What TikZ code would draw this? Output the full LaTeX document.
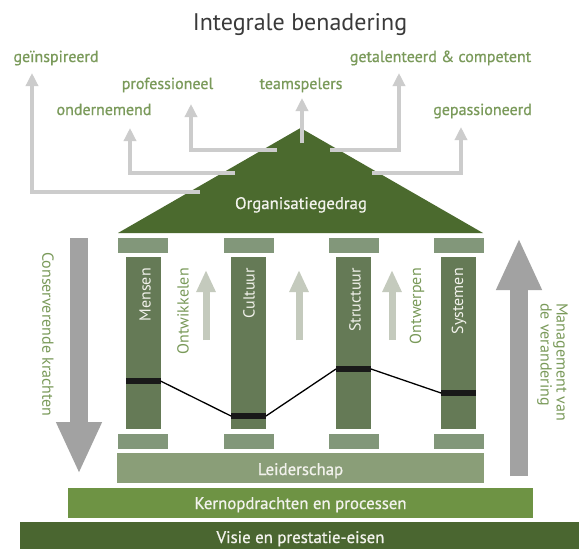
\documentclass[tikz,border=0pt]{standalone}
\usepackage{fontspec}
\setmainfont{PT Sans}
\newfontfamily\medfont[FakeBold=0.8]{PT Sans}
\usetikzlibrary{arrows.meta}
\definecolor{roofgreen}{HTML}{4B6A2E}
\definecolor{basegreen}{HTML}{4A6630}
\definecolor{midgreen}{HTML}{6E9344}
\definecolor{sagegreen}{HTML}{8A9E78}
\definecolor{capgreen}{HTML}{82977A}
\definecolor{shaftgreen}{HTML}{657A56}
\definecolor{labelgreen}{HTML}{7A9A5A}
\definecolor{lightarrow}{HTML}{CCCCCC}
\definecolor{colarrow}{HTML}{C4CABD}
\definecolor{bigarrow}{HTML}{A2A2A2}
\definecolor{titlegray}{HTML}{3A3A3A}
\definecolor{whitetext}{HTML}{F2F2EC}
\begin{document}
\begin{tikzpicture}[x=1pt,y=-1pt,
  lbl/.style={text=labelgreen, font=\medfont\fontsize{16}{18}\selectfont, inner sep=0, anchor=base},
  sidelbl/.style={text=labelgreen, font=\fontsize{16}{16}\selectfont, inner sep=0},
  wtxt/.style={text=whitetext, font=\medfont\fontsize{16.8}{18}\selectfont, inner sep=0, anchor=base},
  coltxt/.style={text=whitetext, font=\fontsize{16}{18}\selectfont, inner sep=0, rotate=90, anchor=east},
  blk/.style={inner sep=0, outer sep=0, draw=none},
  capbox/.style={blk, fill=capgreen, minimum width=50pt, minimum height=15pt},
  shaftbox/.style={blk, fill=shaftgreen, minimum width=35pt, minimum height=172pt},
  band/.style={blk, fill=black!90, minimum width=35pt, minimum height=6pt},
  uparrow/.style={draw=lightarrow, line width=4pt, -{Triangle[width=12pt,length=13pt]}},
  colup/.style={draw=colarrow, line width=7pt, -{Triangle[width=18pt,length=22pt]}},
  bigar/.style={draw=bigarrow, line width=18pt, -{Triangle[width=42pt,length=52pt]}}
]
\useasboundingbox (0,0) rectangle (579,549);
\fill[white] (0,0) rectangle (579,549);

% title
\node[anchor=base, inner sep=0, text=titlegray, font=\fontsize{24}{26}\selectfont] (title) at (300,30) {Integrale benadering};

% labels
\node[lbl] (insp) at (56,62) {geïnspireerd};
\node[lbl] (tal) at (440.5,62) {getalenteerd \& competent};
\node[lbl] (prof) at (167.5,89) {professioneel};
\node[lbl] (team) at (301,89) {teamspelers};
\node[lbl] (onder) at (104,115) {ondernemend};
\node[lbl] (pass) at (482.5,115) {gepassioneerd};

% roof
\coordinate (roofL) at (118,233);
\coordinate (roofR) at (483,233);
\coordinate (roofT) at (300.5,128);
\fill[roofgreen] (roofL) -- (roofT) -- (roofR) -- cycle;
\node[wtxt] (org) at (301,209) {Organisatiegedrag};

% arrows from roof to labels
\coordinate (s1) at (200,192); \coordinate (t1) at (32,73);
\coordinate (s2) at (235,173); \coordinate (t2) at (130,128);
\coordinate (s3) at (277,150); \coordinate (t3) at (191,104);
\coordinate (s4) at (302,143); \coordinate (t4) at (302,98);
\coordinate (s5) at (330,150); \coordinate (t5) at (399,73);
\coordinate (s6) at (372,173); \coordinate (t6) at (461,127);
\draw[uparrow] (s1) -| (t1);
\draw[uparrow] (s2) -| (t2);
\draw[uparrow] (s3) -| (t3);
\draw[uparrow] (s4) -- (t4);
\draw[uparrow] (s5) -| (t5);
\draw[uparrow] (s6) -| (t6);

% columns
\foreach \n/\x in {1/143,2/248.5,3/353.5,4/458.5}{
  \node[capbox] (cap\n) at (\x,245.5) {};
  \node[shaftbox] (shaft\n) at (\x,343) {};
  \node[capbox] (base\n) at (\x,441.5) {};
}
\node[coltxt] (mensen) at (145,268) {Mensen};
\node[coltxt] (cultuur) at (249,268) {Cultuur};
\node[coltxt] (structuur) at (355,268) {Structuur};
\node[coltxt] (systemen) at (459,268) {Systemen};

% bands and zigzag
\node[band] (band1) at (143,381) {};
\node[band] (band2) at (248.5,416) {};
\node[band] (band3) at (353.5,369) {};
\node[band] (band4) at (458.5,393) {};
\draw[black, line width=1.3pt] (band1.east) -- (band2.west);
\draw[black, line width=1.3pt] (band2.east) -- (band3.west);
\draw[black, line width=1.3pt] (band3.east) -- (band4.west);

% inner labels and arrows
\node[sidelbl, rotate=90, anchor=east] (ontw) at (183,268) {Ontwikkelen};
\node[sidelbl, rotate=90, anchor=east] (ontwp) at (417,268) {Ontwerpen};
\coordinate (a1s) at (206,340); \coordinate (a1t) at (206,270);
\coordinate (a2s) at (299,340); \coordinate (a2t) at (299,270);
\coordinate (a3s) at (392,340); \coordinate (a3t) at (392,270);
\draw[colup] (a1s) -- (a1t);
\draw[colup] (a2s) -- (a2t);
\draw[colup] (a3s) -- (a3t);

% big side arrows
\coordinate (L1) at (79,238); \coordinate (L2) at (79,474);
\coordinate (R1) at (519,476); \coordinate (R2) at (519,238);
\draw[bigar] (L1) -- (L2);
\draw[bigar] (R1) -- (R2);
\node[sidelbl, rotate=-90, anchor=west] (cons) at (48,252) {Conserverende krachten};
\node[sidelbl, rotate=-90, anchor=west, align=left] (mgmt) at (552.5,303) {Management van\\de verandering};

% base bars
\node[blk, fill=sagegreen, minimum width=367pt, minimum height=30pt] (lead) at (300.5,468) {};
\node[wtxt] (leadt) at (300.5,475) {Leiderschap};
\node[blk, fill=midgreen, minimum width=465pt, minimum height=30pt] (kern) at (300.5,503) {};
\node[wtxt] (kernt) at (300.5,509) {Kernopdrachten en processen};
\node[blk, fill=basegreen, minimum width=560pt, minimum height=28pt] (visie) at (300,536) {};
\node[wtxt] (visiet) at (300.5,543) {Visie en prestatie-eisen};
\end{tikzpicture}
\end{document}
